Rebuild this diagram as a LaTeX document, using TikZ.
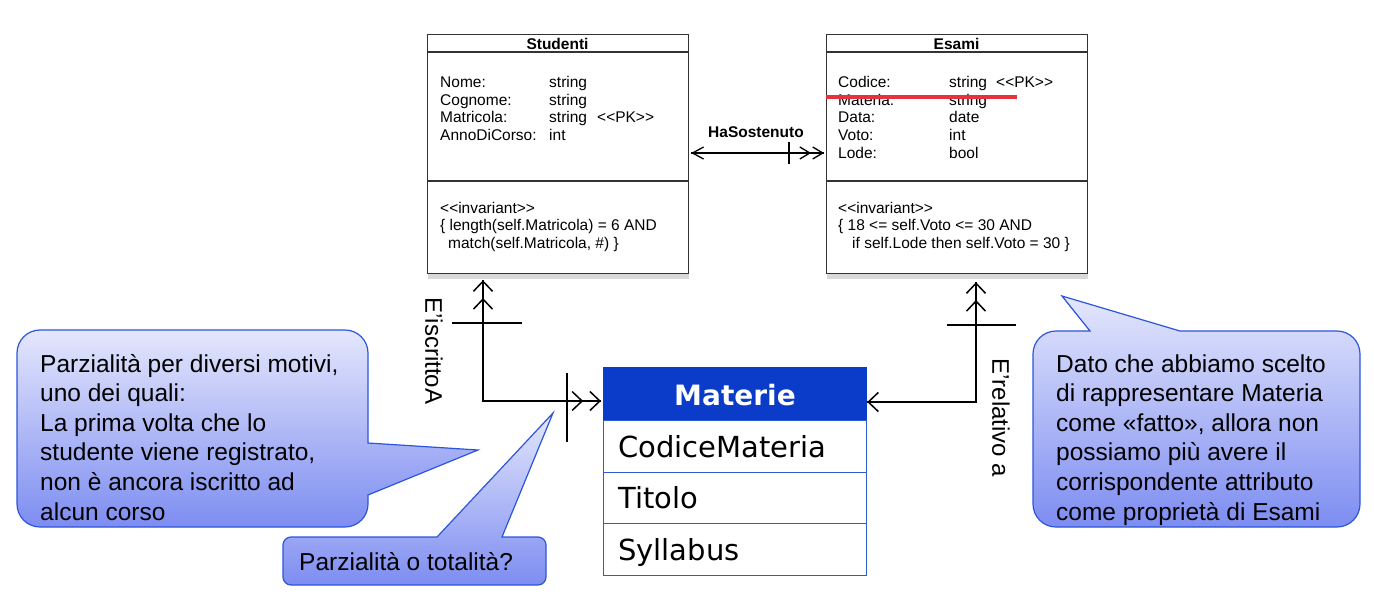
\documentclass[tikz,border=0pt]{standalone}
\usepackage{fontspec}
\setmainfont{Liberation Sans}
\newfontfamily\matfont{DejaVu Sans}
\usetikzlibrary{arrows.meta,shadows,calc}
\definecolor{umlline}{HTML}{333333}
\definecolor{matblue}{HTML}{0B3CC9}
\definecolor{matline}{HTML}{2C5BD8}
\definecolor{calloutline}{HTML}{2D55DA}
\definecolor{calltop}{HTML}{E4E7FC}
\definecolor{callbot}{HTML}{7D8DF1}
\definecolor{strikered}{HTML}{E5323B}
\newcommand{\ltlt}{{<}{<}}
\newcommand{\gtgt}{{>}{>}}
\begin{document}
\begin{tikzpicture}[x=1pt,y=1pt]
\useasboundingbox (0,0) rectangle (1374,-600);
\tikzset{
 umlbox/.style={draw=umlline, line width=1.2pt, fill=white, inner sep=0pt, minimum width=261pt, minimum height=239pt, anchor=north west, drop shadow={shadow xshift=0pt, shadow yshift=-5pt, opacity=0.3}},
 umltxt/.style={anchor=base west, inner sep=0pt, font=\fontsize{15.5}{18}\selectfont},
 umltitle/.style={anchor=base, inner sep=0pt, font=\bfseries\fontsize{15.5}{18}\selectfont},
 umlsep/.style={draw=umlline, line width=1.2pt},
 conn/.style={line width=1.5pt, black},
 onetip/.style={-{Straight Barb[length=10pt,width=19pt]}},
 twotip/.style={-{Straight Barb[length=10pt,width=19pt,sep=6pt]Straight Barb[length=10pt,width=19pt]}},
 onesmall/.style={-{Straight Barb[length=11pt,width=12pt]}},
 twosmall/.style={-{Straight Barb[length=10pt,width=12pt,sep=1pt]Straight Barb[length=10pt,width=12pt]}},
 tick/.style={line width=1.3pt},
 callout/.style={draw=calloutline, line width=1.2pt, top color=calltop, bottom color=callbot},
 calltxt/.style={anchor=base west, inner sep=0pt, font=\fontsize{24.5}{30}\selectfont},
 rotlabel/.style={rotate=-90, inner sep=0pt, font=\fontsize{24}{28}\selectfont},
 matrow/.style={draw=matline, line width=1.2pt, fill=white, minimum width=263pt, anchor=north west, inner sep=0pt},
 mattxt/.style={anchor=base west, inner sep=0pt, font=\matfont\fontsize{29}{34}\selectfont},
}
% ---------- Studenti ----------
\node[umlbox] (stud) at (427,-34) {};
\draw[umlsep] ($(stud.north west)+(0,-18)$) -- ($(stud.north east)+(0,-18)$);
\draw[umlsep] ($(stud.north west)+(0,-147)$) -- ($(stud.north east)+(0,-147)$);
\node[umltitle] (studT) at (557.5,-49) {Studenti};
\node[umltxt] (s1) at (440,-87) {Nome:};
\node[umltxt] (s2) at (440,-105) {Cognome:};
\node[umltxt] (s3) at (440,-122) {Matricola:};
\node[umltxt] (s4) at (440,-140) {AnnoDiCorso:};
\node[umltxt] (s1t) at (549,-87) {string};
\node[umltxt] (s2t) at (549,-105) {string};
\node[umltxt] (s3t) at (549,-122) {string};
\node[umltxt] (s4t) at (549,-140) {int};
\node[umltxt] (s3pk) at (597,-122) {\ltlt PK\gtgt};
\node[umltxt] (si1) at (440,-213) {\ltlt invariant\gtgt};
\node[umltxt] (si2) at (440,-230) {\{ length(self.Matricola) = 6 AND};
\node[umltxt] (si3) at (448,-248) {match(self.Matricola, \#) \}};
% ---------- Esami ----------
\node[umlbox] (esami) at (826,-34) {};
\draw[umlsep] ($(esami.north west)+(0,-18)$) -- ($(esami.north east)+(0,-18)$);
\draw[umlsep] ($(esami.north west)+(0,-147)$) -- ($(esami.north east)+(0,-147)$);
\node[umltitle] (esT) at (956.5,-49) {Esami};
\node[umltxt] (e1) at (838,-87) {Codice:};
\node[umltxt] (e2) at (838,-105) {Materia:};
\node[umltxt] (e3) at (838,-122) {Data:};
\node[umltxt] (e4) at (838,-140) {Voto:};
\node[umltxt] (e5) at (838,-158) {Lode:};
\node[umltxt] (e1t) at (949,-87) {string};
\node[umltxt] (e2t) at (949,-105) {string};
\node[umltxt] (e3t) at (949,-122) {date};
\node[umltxt] (e4t) at (949,-140) {int};
\node[umltxt] (e5t) at (949,-158) {bool};
\node[umltxt] (e1pk) at (996,-87) {\ltlt PK\gtgt};
\node[umltxt] (ei1) at (838,-213) {\ltlt invariant\gtgt};
\node[umltxt] (ei2) at (838,-230) {\{ 18 {<}= self.Voto {<}= 30 AND};
\node[umltxt] (ei3) at (852,-248) {if self.Lode then self.Voto = 30 \}};
\draw[strikered, line width=3.5pt] ($(esami.north west)+(0,-63)$) -- ++(191,0);
% ---------- Materie ----------
\node[matrow, fill=matblue, draw=matblue, minimum height=53pt] (mh) at (603,-367) {};
\node[matrow, minimum height=52pt] (mr1) at (603,-420) {};
\node[matrow, minimum height=51pt] (mr2) at (603,-472) {};
\node[matrow, minimum height=52pt] (mr3) at (603,-523) {};
\node[anchor=base, inner sep=0pt, text=white, font=\matfont\bfseries\fontsize{28}{34}\selectfont] (mhT) at (735,-405) {Materie};
\node[mattxt] (m1) at (618,-457) {CodiceMateria};
\node[mattxt] (m2) at (618,-508) {Titolo};
\node[mattxt] (m3) at (618,-560) {Syllabus};
% ---------- HaSostenuto ----------
\coordinate (hsy) at (0,-153);
\coordinate (hsL) at ($(stud.east |- hsy)+(2,0)$);
\coordinate (hsR) at ($(esami.west |- hsy)+(-2,0)$);
\draw[conn, line width=1.3pt] (hsL) -- (hsR);
\draw[conn, line width=1.3pt, onesmall] (hsR) -- (hsL);
\draw[conn, line width=1.3pt, twosmall] (hsL) -- (hsR);
\draw[tick] (789,-142) -- (789,-164);
\node[anchor=base, inner sep=0pt, font=\bfseries\fontsize{15.5}{18}\selectfont] (hsT) at (756,-137) {HaSostenuto};
% ---------- E'iscrittoA ----------
\coordinate (ei) at (483,-401);
\coordinate (eiTop) at ($(ei |- stud.south)+(0,-6)$);
\coordinate (eiRight) at ($(ei -| mh.west)+(-2,0)$);
\draw[conn] (eiTop) -- (ei) -- (eiRight);
\draw[conn, twotip] (ei) -- (eiTop);
\draw[conn, twotip] (ei) -- (eiRight);
\draw[tick] (452,-323) -- (522,-323);
\draw[tick] (567,-373) -- (567,-442);
\node[rotlabel] (lblEi) at (434,-351) {E'iscrittoA};
% ---------- E'relativo a ----------
\coordinate (er) at (976,-402);
\coordinate (erTop) at ($(er |- esami.south)+(0,-8)$);
\coordinate (erLeft) at (er -| mh.east);
\draw[conn] (erTop) -- (er) -- (erLeft);
\draw[conn, twotip] (er) -- (erTop);
\draw[conn, onetip] (er) -- (erLeft);
\draw[tick] (947,-325) -- (1016,-325);
\node[rotlabel] (lblEr) at (1001,-418) {E'relativo a};
% ---------- Callouts ----------
\path[callout] (40,-330) -- (345,-330) arc[start angle=90,end angle=0,radius=23]
  -- (368,-443) -- (478,-450) -- (368,-495) -- (368,-504)
  arc[start angle=0,end angle=-90,radius=23] -- (40,-527)
  arc[start angle=270,end angle=180,radius=23] -- (17,-353)
  arc[start angle=180,end angle=90,radius=23] -- cycle;
\foreach \t [count=\i] in {{Parzialità per diversi motivi,},{uno dei quali:},{La prima volta che lo},{studente viene registrato,},{non è ancora iscritto ad},{alcun corso}}
  \node[calltxt] (cA-\i) at (40,{-372-29.6*(\i-1)}) {\t};
\path[callout] (291,-537) -- (437,-537) -- (553,-413) -- (502,-537) -- (538,-537)
  arc[start angle=90,end angle=0,radius=8] -- (546,-577)
  arc[start angle=0,end angle=-90,radius=8] -- (291,-585)
  arc[start angle=270,end angle=180,radius=8] -- (283,-545)
  arc[start angle=180,end angle=90,radius=8] -- cycle;
\node[calltxt] (cB) at (299,-570) {Parzialità o totalità?};
\path[callout] (1056,-331) -- (1090,-331) -- (1062,-296) -- (1180,-331) -- (1337,-331)
  arc[start angle=90,end angle=0,radius=23] -- (1360,-504)
  arc[start angle=0,end angle=-90,radius=23] -- (1056,-527)
  arc[start angle=270,end angle=180,radius=23] -- (1033,-354)
  arc[start angle=180,end angle=90,radius=23] -- cycle;
\foreach \t [count=\i] in {{Dato che abbiamo scelto},{di rappresentare Materia},{come «fatto», allora non},{possiamo più avere il},{corrispondente attributo},{come proprietà di Esami}}
  \node[calltxt] (cC-\i) at (1056,{-372-29.6*(\i-1)}) {\t};
\end{tikzpicture}
\end{document}
